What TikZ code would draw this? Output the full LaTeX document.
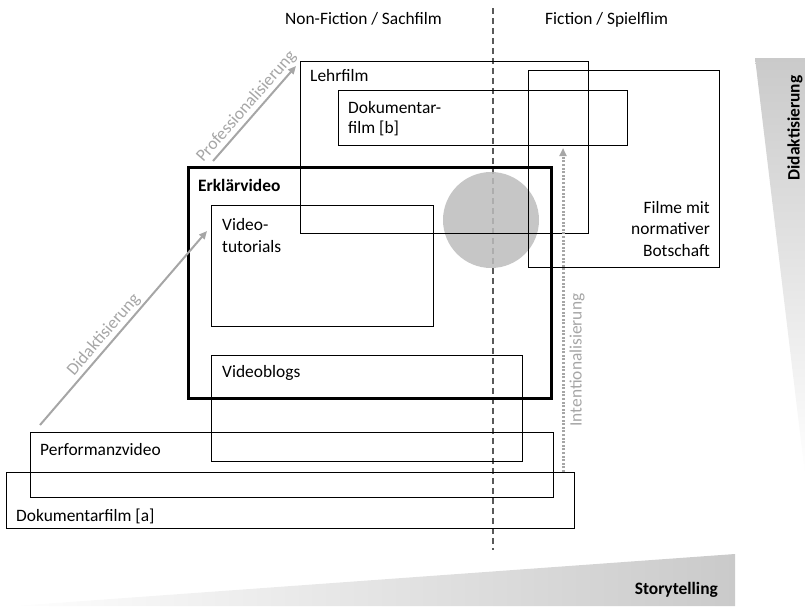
\documentclass[tikz,border=0pt]{standalone}
\usepackage{fontspec}
\setmainfont{Carlito}
\usetikzlibrary{arrows.meta}
\definecolor{dashgray}{HTML}{595959}
\definecolor{arrgray}{HTML}{A6A6A6}
\definecolor{circgray}{HTML}{BCBCBC}
\definecolor{wedgegray}{HTML}{CACACA}
\begin{document}
\begin{tikzpicture}[x=1pt,y=-1pt,
  box/.style={draw=black, line width=1.3pt, inner sep=0pt, anchor=north west},
  thickbox/.style={box, line width=3pt},
  lbl/.style={font=\fontsize{17.4}{21}\selectfont, inner sep=0pt},
  boldlbl/.style={lbl, font=\fontsize{17.4}{21}\selectfont\bfseries},
  arrlbl/.style={font=\fontsize{17.4}{21}\selectfont, text=arrgray, inner sep=2pt},
  garrow/.style={draw=arrgray, line width=2pt, -{Triangle[length=8pt,width=7pt]}},
  dotarrow/.style={draw=arrgray, line width=3pt, dash pattern=on 2pt off 1.6pt, -{Triangle[length=8pt,width=7pt]}},
  divider/.style={draw=dashgray, line width=2pt, dash pattern=on 6pt off 4pt}]
\useasboundingbox (0,0) rectangle (805,606);
% wedges
\shade[top color=wedgegray, bottom color=white] (755,58) -- (805,58) -- (805,475) -- cycle;
\shade[left color=white, right color=wedgegray] (0,607) -- (735,554) -- (735,606) -- (0,606) -- cycle;
\node[boldlbl, rotate=90] (didr) at (795,128) {Didaktisierung};
\node[boldlbl, anchor=base east] (story) at (718,594) {Storytelling};
% headers
\node[lbl, anchor=base west] (nonfic) at (285,24) {Non-Fiction / Sachfilm};
\node[lbl, anchor=base west] (fic) at (545,24) {Fiction / Spielflim};
% divider
\coordinate (dtop) at (493,8);
\coordinate (dbot) at (493,550);
\draw[divider] (dtop) -- (dbot);
% circle
\fill[circgray, opacity=0.85] (491,220) circle[radius=48];
% boxes
\node[box, minimum width=288, minimum height=172] (lehr) at (300,61) {};
\node[box, minimum width=289, minimum height=55] (dokb) at (338,90) {};
\node[box, minimum width=191, minimum height=197] (filme) at (528,70) {};
\node[thickbox, minimum width=363, minimum height=231] (erkl) at (187,166) {};
\node[box, minimum width=222, minimum height=121] (tut) at (211,205) {};
\node[box, minimum width=311, minimum height=106] (blogs) at (211,355) {};
\node[box, minimum width=523, minimum height=65] (perf) at (30,432) {};
\node[box, minimum width=568, minimum height=56] (doka) at (6,472) {};
% labels
\node[lbl, anchor=base west] (lehrt) at (310,81.5) {Lehrfilm};
\node[lbl, anchor=base west] (dokbt1) at (348,113) {Dokumentar-};
\node[lbl, anchor=base west] (dokbt2) at (348,133) {film [b]};
\node[lbl, anchor=base east] (filmet1) at (710,213) {Filme mit};
\node[lbl, anchor=base east] (filmet2) at (710,234.5) {normativer};
\node[lbl, anchor=base east] (filmet3) at (710,256) {Botschaft};
\node[boldlbl, anchor=base west] (erklt) at (198,191) {Erklärvideo};
\node[lbl, anchor=base west] (tutt1) at (222,230.5) {Video-};
\node[lbl, anchor=base west] (tutt2) at (222,252) {tutorials};
\node[lbl, anchor=base west] (blogst) at (222,377) {Videoblogs};
\node[lbl, anchor=base west] (perft) at (40,455) {Performanzvideo};
\node[lbl, anchor=base west] (dokat) at (16,521) {Dokumentarfilm [a]};
% arrows
\coordinate (p0) at (213,161);
\coordinate (p1) at (296,66);
\draw[garrow] (p0) -- node[arrlbl, sloped, above, pos=0.5] (proft) {Professionalisierung} (p1);
\coordinate (d0) at (40,425);
\coordinate (d1) at (207,231);
\draw[garrow] (d0) -- node[arrlbl, sloped, above, pos=0.43] (didt) {Didaktisierung} (d1);
\coordinate (i0) at (563,472);
\coordinate (i1) at (563,148);
\draw[dotarrow] (i0) -- (i1);
\node[arrlbl, rotate=90, inner sep=0pt] (intt) at (577,360) {Intentionalisierung};
\end{tikzpicture}
\end{document}
